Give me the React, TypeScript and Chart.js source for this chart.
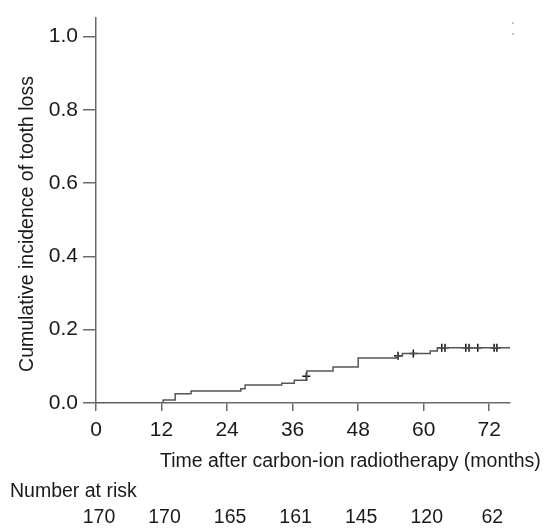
import React, { useEffect, useRef } from "react";
import { Chart, registerables } from "chart.js";

Chart.register(...registerables);

// Step function: event times (months) and cumulative incidence after each step
const eventTimes = [0, 12.3, 14.5, 17.4, 26.5, 27.3, 34.0, 36.3, 38.6, 43.4, 48.0, 55.0, 56.1, 61.2, 62.5, 75.8];
const incidence = [0, 0.008, 0.025, 0.033, 0.039, 0.049, 0.054, 0.062, 0.0875, 0.098, 0.123, 0.128, 0.135, 0.142, 0.151, 0.151];

// Censored observations
const censorTimes = [38.5, 55.3, 58.1, 63.3, 63.9, 67.7, 68.3, 69.9, 72.9, 73.4];
const censorValues = [0.073, 0.129, 0.135, 0.151, 0.151, 0.151, 0.151, 0.151, 0.151, 0.151];

const xTicks = [0, 12, 24, 36, 48, 60, 72];
const yTicks = [0, 0.2, 0.4, 0.6, 0.8, 1.0];
const numberAtRisk = [170, 170, 165, 161, 145, 120, 62];

const xTitle = "Time after carbon-ion radiotherapy (months)";
const yTitle = "Cumulative incidence of tooth loss";
const riskTitle = "Number at risk";

const FONT = "'Liberation Sans', Arial, sans-serif";
const FS = 19.5;
const TICK_FS = 21;
const TEXT = "#1a1a1a";
const AXIS = "#6a6a6a";

export default function App() {
  const ref = useRef<HTMLCanvasElement | null>(null);

  useEffect(() => {
    document.body.style.margin = "0";
    const canvas = ref.current;
    if (!canvas) return;

    const overlay = {
      id: "overlay",
      afterDraw(chart: any) {
        const ctx = chart.ctx;
        const xs = chart.scales.x;
        ctx.save();
        ctx.fillStyle = TEXT;
        ctx.font = `${FS}px ${FONT}`;
        // y title
        ctx.save();
        ctx.translate(28, 224);
        ctx.rotate(-Math.PI / 2);
        ctx.textAlign = "center";
        ctx.textBaseline = "middle";
        ctx.fillText(yTitle, 0, 0);
        ctx.restore();
        // x title
        ctx.textAlign = "left";
        ctx.textBaseline = "middle";
        ctx.fillText(xTitle, 160, 462);
        // number at risk
        ctx.fillText(riskTitle, 10, 492);
        ctx.textAlign = "center";
        numberAtRisk.forEach((n, i) => {
          ctx.fillText(String(n), xs.getPixelForValue(xTicks[i]) + 3, 518);
        });
        // faint marks top right
        ctx.fillStyle = "#c8c8c8";
        ctx.fillRect(512, 22, 2, 2);
        ctx.fillRect(512, 33, 2, 2);
        ctx.restore();
      },
    };

    const chart = new Chart(canvas, {
      type: "line",
      data: {
        datasets: [
          {
            data: eventTimes.map((t, i) => ({ x: t, y: incidence[i] })),
            stepped: "before",
            borderColor: "#555555",
            borderWidth: 1.5,
            pointRadius: 0,
            fill: false,
          },
          {
            type: "scatter",
            data: censorTimes.map((t, i) => ({ x: t, y: censorValues[i] })),
            showLine: false,
            pointStyle: "cross",
            pointRadius: 4,
            borderColor: "#111111",
            borderWidth: 1.5,
          } as any,
        ],
      },
      options: {
        responsive: false,
        animation: false,
        events: [],
        layout: { padding: { top: 15, right: 34, left: 0, bottom: 0 } },
        plugins: { legend: { display: false }, tooltip: { enabled: false } },
        scales: {
          x: {
            type: "linear",
            min: 0,
            max: 75.8,
            afterFit: (s: any) => { s.height = 125; },
            afterBuildTicks: (s: any) => { s.ticks = xTicks.map((v) => ({ value: v })); },
            grid: { display: true, drawOnChartArea: false, drawTicks: true, tickLength: 8, color: AXIS, lineWidth: 1.5 },
            border: { display: true, color: AXIS, width: 1.5 },
            ticks: { color: TEXT, font: { family: FONT, size: TICK_FS }, padding: 7, maxRotation: 0, autoSkip: false },
          },
          y: {
            type: "linear",
            min: 0,
            max: 1.0515,
            afterFit: (s: any) => { s.width = 96; },
            afterBuildTicks: (s: any) => { s.ticks = yTicks.map((v) => ({ value: v })); },
            grid: { display: true, drawOnChartArea: false, drawTicks: true, tickLength: 13, color: AXIS, lineWidth: 1.5 },
            border: { display: true, color: AXIS, width: 1.5 },
            ticks: {
              color: TEXT,
              font: { family: FONT, size: TICK_FS },
              padding: 5,
              callback: (v: any) => Number(v).toFixed(1),
            },
          },
        },
      },
      plugins: [overlay],
    });

    return () => chart.destroy();
  }, []);

  return <canvas ref={ref} width={544} height={528} style={{ display: "block" }} />;
}
